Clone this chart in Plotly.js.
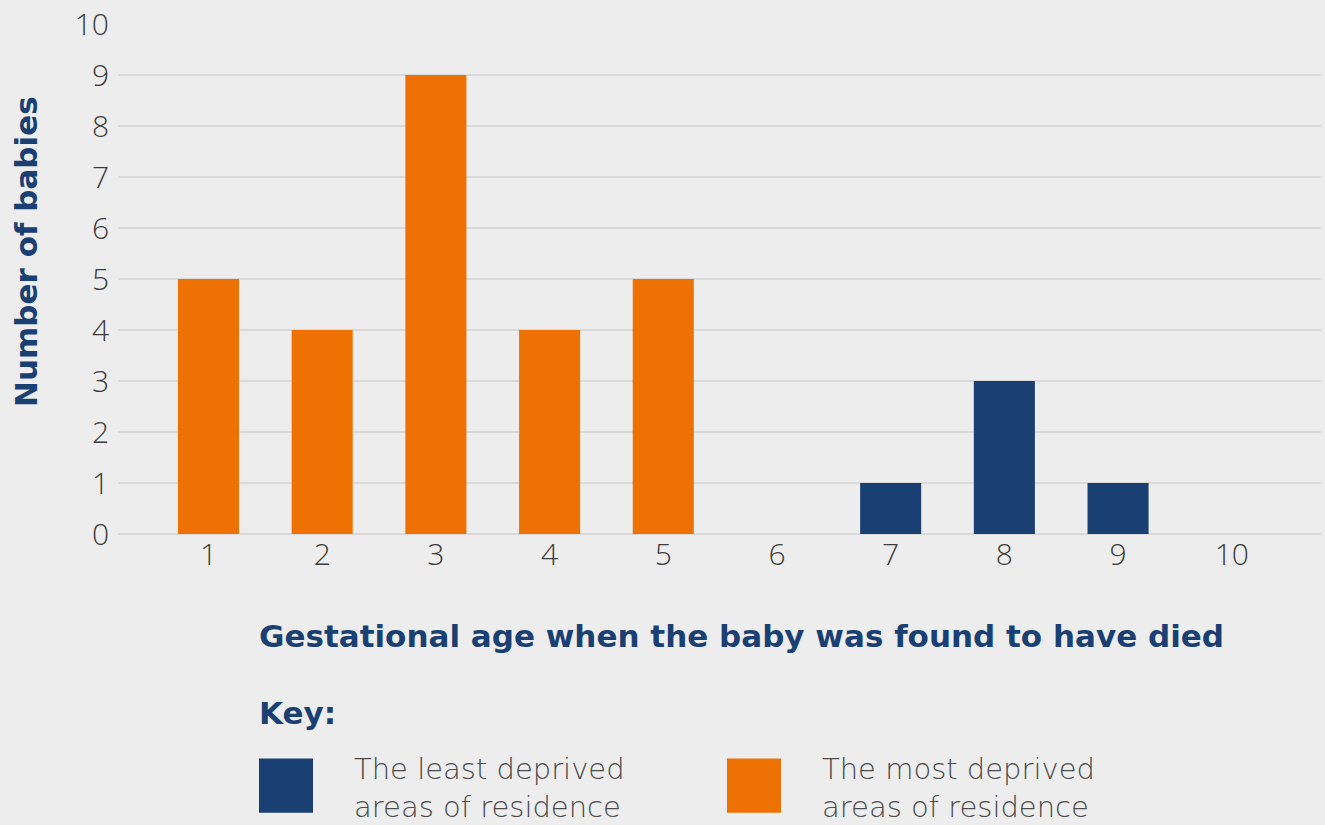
<!DOCTYPE html>
<html>
<head>
<meta charset="utf-8">
<script src="https://cdn.plot.ly/plotly-3.0.1.min.js"></script>
<style>
  html, body { margin: 0; padding: 0; background: #ededed; }
  #chart { width: 1325px; height: 825px; }
</style>
</head>
<body>
<div id="chart"></div>
<script>
// ---- Data ----
const categories = [1, 2, 3, 4, 5, 6, 7, 8, 9, 10];
const tickLabels = ["1", "2", "3", "4", "5", "6", "7", "8", "9", "10"];
const leastDeprived = [0, 0, 0, 0, 0, 0, 1, 3, 1, 0];
const mostDeprived = [5, 4, 9, 4, 5, 0, 0, 0, 0, 0];
const seriesNames = ["The least deprived areas of residence", "The most deprived areas of residence"];
const legendText = ["The least deprived<br>areas of residence", "The most deprived<br>areas of residence"];
const xTitle = "Gestational age when the baby was found to have died";
const yTitle = "Number of babies";
const keyTitle = "Key:";

// ---- Styling ----
const BLUE = "#1a3f73";
const ORANGE = "#ee7203";
const BG = "#ededed";
const TITLE_FONT = "'DejaVu Sans', 'Open Sans', sans-serif";
const TICK_FONT = "'Open Sans', 'Noto Sans', sans-serif";
const LEGEND_FONT = "'DejaVu Sans', 'Open Sans', sans-serif";

// plot-area geometry (pixels)
const L = 118, T = 24.3, W = 1203, H = 509.4;
const px = x => (x - L) / W;
const py = y => (T + H - y) / H;

const traces = [
  { type: "bar", x: categories, y: leastDeprived, name: seriesNames[0],
    marker: { color: BLUE }, width: 0.537, hoverinfo: "x+y" },
  { type: "bar", x: categories, y: mostDeprived, name: seriesNames[1],
    marker: { color: ORANGE }, width: 0.537, hoverinfo: "x+y" }
];

const titleFont = { family: TITLE_FONT, size: 31, color: BLUE, weight: 700 };
const legendFont = { family: LEGEND_FONT, size: 29, color: "#4a4a4a", weight: 200 };

const layout = {
  width: 1325, height: 825,
  margin: { l: L, r: 1325 - L - W, t: T, b: 825 - T - H, pad: 0 },
  paper_bgcolor: BG, plot_bgcolor: BG,
  barmode: "overlay",
  showlegend: false,
  xaxis: {
    range: [0.204, 10.785], tickvals: categories, ticktext: tickLabels,
    showgrid: false, zeroline: false, showline: false, ticks: "",
    tickfont: { family: TICK_FONT, size: 30, color: "#3c3c3c", weight: 300 },
    fixedrange: true
  },
  yaxis: {
    range: [0, 10], dtick: 1, tick0: 0,
    showgrid: true, gridcolor: "#d9d9d9", gridwidth: 2,
    zeroline: true, zerolinecolor: "#d9d9d9", zerolinewidth: 2,
    showline: false, ticks: "", ticklabelstandoff: 8,
    tickfont: { family: TICK_FONT, size: 30, color: "#3c3c3c", weight: 300 },
    fixedrange: true
  },
  shapes: [
    { type: "rect", xref: "paper", yref: "paper", x0: px(259), x1: px(313), y0: py(812), y1: py(758),
      fillcolor: BLUE, line: { width: 0 } },
    { type: "rect", xref: "paper", yref: "paper", x0: px(727), x1: px(781), y0: py(812), y1: py(758),
      fillcolor: ORANGE, line: { width: 0 } }
  ],
  annotations: [
    { xref: "paper", yref: "paper", x: px(26), y: py(252), textangle: -90,
      xanchor: "center", yanchor: "middle", showarrow: false, text: yTitle, font: titleFont },
    { xref: "paper", yref: "paper", x: px(257), y: py(636),
      xanchor: "left", yanchor: "middle", showarrow: false, text: xTitle, font: titleFont },
    { xref: "paper", yref: "paper", x: px(257), y: py(712),
      xanchor: "left", yanchor: "middle", showarrow: false, text: keyTitle, font: titleFont },
    { xref: "paper", yref: "paper", x: px(352), y: py(787), align: "left",
      xanchor: "left", yanchor: "middle", showarrow: false, text: legendText[0], font: legendFont },
    { xref: "paper", yref: "paper", x: px(820), y: py(787), align: "left",
      xanchor: "left", yanchor: "middle", showarrow: false, text: legendText[1], font: legendFont }
  ]
};

Plotly.newPlot("chart", traces, layout, { displayModeBar: false, staticPlot: true });
</script>
</body>
</html>
